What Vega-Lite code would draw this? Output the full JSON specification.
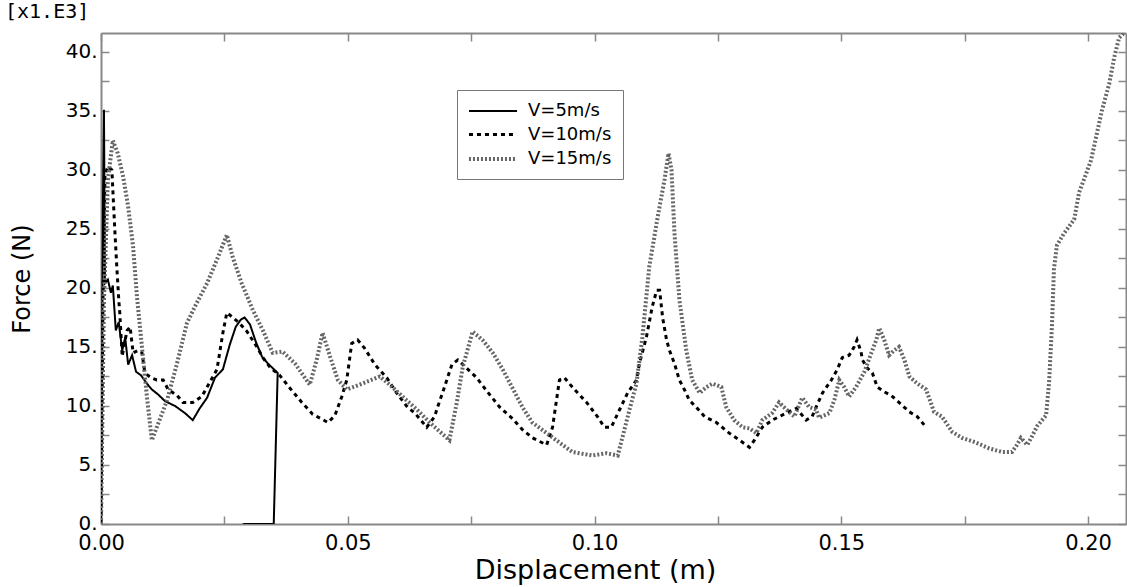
{
"$schema": "https://vega.github.io/schema/vega-lite/v6.json",
"width": 1025, "height": 491,
"autosize": {"type": "none"},
"padding": {"left": 101, "top": 33, "right": 1, "bottom": 63},
"background": "white",
"title": {"text": "[x1.E3]", "anchor": "start", "frame": "group", "dx": -96, "offset": 10, "font": "DejaVu Sans Mono", "fontSize": 20, "fontWeight": "normal", "color": "#000"},
"config": {
  "view": {"stroke": null},
  "axis": {"domainColor": "#888", "domainWidth": 2, "tickColor": "#888", "tickWidth": 1.5, "labelFont": "DejaVu Sans", "labelFontSize": 20, "labelColor": "#000", "titleFont": "DejaVu Sans", "titleFontSize": 24, "titleFontWeight": "normal", "titleColor": "#000", "grid": false},
  "legend": {"orient": "none", "legendX": 356, "legendY": 57, "padding": 11, "strokeColor": "#777", "fillColor": "#fff", "labelFont": "DejaVu Sans", "labelFontSize": 18, "labelColor": "#000", "symbolType": "M-2.67,0H2.67", "symbolSize": 324, "symbolOffset": 14, "labelOffset": 24, "rowPadding": 4}
},
"data": {"values": [
{"series":"V=5m/s","i":0,"disp":0,"force":0},
{"series":"V=5m/s","i":1,"disp":0.0002,"force":10.5},
{"series":"V=5m/s","i":2,"disp":0.0004,"force":27.5},
{"series":"V=5m/s","i":3,"disp":0.0006,"force":35.1},
{"series":"V=5m/s","i":4,"disp":0.0008,"force":20.4},
{"series":"V=5m/s","i":5,"disp":0.0014,"force":20.7},
{"series":"V=5m/s","i":6,"disp":0.002,"force":19.6},
{"series":"V=5m/s","i":7,"disp":0.0024,"force":20.2},
{"series":"V=5m/s","i":8,"disp":0.003,"force":16.4},
{"series":"V=5m/s","i":9,"disp":0.0036,"force":17.1},
{"series":"V=5m/s","i":10,"disp":0.0043,"force":14.7},
{"series":"V=5m/s","i":11,"disp":0.0049,"force":15.8},
{"series":"V=5m/s","i":12,"disp":0.0055,"force":13.5},
{"series":"V=5m/s","i":13,"disp":0.0063,"force":14.3},
{"series":"V=5m/s","i":14,"disp":0.0071,"force":12.9},
{"series":"V=5m/s","i":15,"disp":0.0081,"force":12.6},
{"series":"V=5m/s","i":16,"disp":0.0093,"force":11.9},
{"series":"V=5m/s","i":17,"disp":0.0103,"force":11.4},
{"series":"V=5m/s","i":18,"disp":0.0115,"force":11.0},
{"series":"V=5m/s","i":19,"disp":0.013,"force":10.4},
{"series":"V=5m/s","i":20,"disp":0.015,"force":10.0},
{"series":"V=5m/s","i":21,"disp":0.017,"force":9.4},
{"series":"V=5m/s","i":22,"disp":0.0186,"force":8.8},
{"series":"V=5m/s","i":23,"disp":0.02,"force":9.8},
{"series":"V=5m/s","i":24,"disp":0.0215,"force":10.7},
{"series":"V=5m/s","i":25,"disp":0.0231,"force":12.4},
{"series":"V=5m/s","i":26,"disp":0.0247,"force":13.1},
{"series":"V=5m/s","i":27,"disp":0.0261,"force":15.2},
{"series":"V=5m/s","i":28,"disp":0.0273,"force":16.7},
{"series":"V=5m/s","i":29,"disp":0.0283,"force":17.3},
{"series":"V=5m/s","i":30,"disp":0.0291,"force":17.5},
{"series":"V=5m/s","i":31,"disp":0.0302,"force":16.9},
{"series":"V=5m/s","i":32,"disp":0.0314,"force":15.4},
{"series":"V=5m/s","i":33,"disp":0.0326,"force":14.2},
{"series":"V=5m/s","i":34,"disp":0.0338,"force":13.6},
{"series":"V=5m/s","i":35,"disp":0.0358,"force":12.8},
{"series":"V=5m/s","i":36,"disp":0.035,"force":0},
{"series":"V=5m/s","i":37,"disp":0.0287,"force":0},
{"series":"V=10m/s","i":0,"disp":0,"force":0},
{"series":"V=10m/s","i":1,"disp":0.0004,"force":19.0},
{"series":"V=10m/s","i":2,"disp":0.0008,"force":29.6},
{"series":"V=10m/s","i":3,"disp":0.0014,"force":30.3},
{"series":"V=10m/s","i":4,"disp":0.0022,"force":30.0},
{"series":"V=10m/s","i":5,"disp":0.0028,"force":24.9},
{"series":"V=10m/s","i":6,"disp":0.0032,"force":21.8},
{"series":"V=10m/s","i":7,"disp":0.0036,"force":19.0},
{"series":"V=10m/s","i":8,"disp":0.0038,"force":17.9},
{"series":"V=10m/s","i":9,"disp":0.0043,"force":14.2},
{"series":"V=10m/s","i":10,"disp":0.0047,"force":15.2},
{"series":"V=10m/s","i":11,"disp":0.0053,"force":16.4},
{"series":"V=10m/s","i":12,"disp":0.0059,"force":16.7},
{"series":"V=10m/s","i":13,"disp":0.0065,"force":14.5},
{"series":"V=10m/s","i":14,"disp":0.0075,"force":14.7},
{"series":"V=10m/s","i":15,"disp":0.0083,"force":14.5},
{"series":"V=10m/s","i":16,"disp":0.0089,"force":12.8},
{"series":"V=10m/s","i":17,"disp":0.0101,"force":12.4},
{"series":"V=10m/s","i":18,"disp":0.0113,"force":12.2},
{"series":"V=10m/s","i":19,"disp":0.0126,"force":12.2},
{"series":"V=10m/s","i":20,"disp":0.0136,"force":11.4},
{"series":"V=10m/s","i":21,"disp":0.0154,"force":10.9},
{"series":"V=10m/s","i":22,"disp":0.0166,"force":10.3},
{"series":"V=10m/s","i":23,"disp":0.0186,"force":10.3},
{"series":"V=10m/s","i":24,"disp":0.0204,"force":10.8},
{"series":"V=10m/s","i":25,"disp":0.0215,"force":11.6},
{"series":"V=10m/s","i":26,"disp":0.0235,"force":13.1},
{"series":"V=10m/s","i":27,"disp":0.0247,"force":16.2},
{"series":"V=10m/s","i":28,"disp":0.0255,"force":17.9},
{"series":"V=10m/s","i":29,"disp":0.0267,"force":17.5},
{"series":"V=10m/s","i":30,"disp":0.0281,"force":17.0},
{"series":"V=10m/s","i":31,"disp":0.0296,"force":16.3},
{"series":"V=10m/s","i":32,"disp":0.0316,"force":15.0},
{"series":"V=10m/s","i":33,"disp":0.0328,"force":14.1},
{"series":"V=10m/s","i":34,"disp":0.0342,"force":13.3},
{"series":"V=10m/s","i":35,"disp":0.0362,"force":12.6},
{"series":"V=10m/s","i":36,"disp":0.0383,"force":11.5},
{"series":"V=10m/s","i":37,"disp":0.0407,"force":10.3},
{"series":"V=10m/s","i":38,"disp":0.0429,"force":9.3},
{"series":"V=10m/s","i":39,"disp":0.046,"force":8.6},
{"series":"V=10m/s","i":40,"disp":0.0474,"force":9.2},
{"series":"V=10m/s","i":41,"disp":0.0488,"force":10.8},
{"series":"V=10m/s","i":42,"disp":0.0498,"force":12.2},
{"series":"V=10m/s","i":43,"disp":0.0508,"force":15.3},
{"series":"V=10m/s","i":44,"disp":0.052,"force":15.6},
{"series":"V=10m/s","i":45,"disp":0.0534,"force":14.9},
{"series":"V=10m/s","i":46,"disp":0.0555,"force":13.5},
{"series":"V=10m/s","i":47,"disp":0.0579,"force":12.4},
{"series":"V=10m/s","i":48,"disp":0.0599,"force":11.1},
{"series":"V=10m/s","i":49,"disp":0.0621,"force":9.9},
{"series":"V=10m/s","i":50,"disp":0.0636,"force":9.4},
{"series":"V=10m/s","i":51,"disp":0.066,"force":8.2},
{"series":"V=10m/s","i":52,"disp":0.0676,"force":9.1},
{"series":"V=10m/s","i":53,"disp":0.0682,"force":9.9},
{"series":"V=10m/s","i":54,"disp":0.0692,"force":11.1},
{"series":"V=10m/s","i":55,"disp":0.0711,"force":13.5},
{"series":"V=10m/s","i":56,"disp":0.0723,"force":13.9},
{"series":"V=10m/s","i":57,"disp":0.0741,"force":13.2},
{"series":"V=10m/s","i":58,"disp":0.0761,"force":12.4},
{"series":"V=10m/s","i":59,"disp":0.0783,"force":11.2},
{"series":"V=10m/s","i":60,"disp":0.0808,"force":9.9},
{"series":"V=10m/s","i":61,"disp":0.0832,"force":9.0},
{"series":"V=10m/s","i":62,"disp":0.0854,"force":8.0},
{"series":"V=10m/s","i":63,"disp":0.0874,"force":7.3},
{"series":"V=10m/s","i":64,"disp":0.0903,"force":6.7},
{"series":"V=10m/s","i":65,"disp":0.0915,"force":8.2},
{"series":"V=10m/s","i":66,"disp":0.0923,"force":10.5},
{"series":"V=10m/s","i":67,"disp":0.0929,"force":12.2},
{"series":"V=10m/s","i":68,"disp":0.0939,"force":12.4},
{"series":"V=10m/s","i":69,"disp":0.0955,"force":11.6},
{"series":"V=10m/s","i":70,"disp":0.0984,"force":10.3},
{"series":"V=10m/s","i":71,"disp":0.1006,"force":9.1},
{"series":"V=10m/s","i":72,"disp":0.102,"force":8.2},
{"series":"V=10m/s","i":73,"disp":0.1034,"force":8.2},
{"series":"V=10m/s","i":74,"disp":0.1051,"force":9.7},
{"series":"V=10m/s","i":75,"disp":0.1067,"force":11.1},
{"series":"V=10m/s","i":76,"disp":0.1085,"force":12.2},
{"series":"V=10m/s","i":77,"disp":0.1091,"force":13.6},
{"series":"V=10m/s","i":78,"disp":0.1105,"force":15.8},
{"series":"V=10m/s","i":79,"disp":0.1117,"force":18.4},
{"series":"V=10m/s","i":80,"disp":0.1126,"force":19.8},
{"series":"V=10m/s","i":81,"disp":0.1132,"force":19.8},
{"series":"V=10m/s","i":82,"disp":0.1138,"force":17.5},
{"series":"V=10m/s","i":83,"disp":0.1146,"force":15.6},
{"series":"V=10m/s","i":84,"disp":0.1152,"force":14.7},
{"series":"V=10m/s","i":85,"disp":0.1162,"force":13.6},
{"series":"V=10m/s","i":86,"disp":0.1172,"force":12.2},
{"series":"V=10m/s","i":87,"disp":0.1182,"force":11.4},
{"series":"V=10m/s","i":88,"disp":0.1192,"force":10.5},
{"series":"V=10m/s","i":89,"disp":0.1206,"force":9.9},
{"series":"V=10m/s","i":90,"disp":0.1223,"force":9.1},
{"series":"V=10m/s","i":91,"disp":0.1247,"force":8.6},
{"series":"V=10m/s","i":92,"disp":0.1273,"force":7.7},
{"series":"V=10m/s","i":93,"disp":0.1294,"force":7.1},
{"series":"V=10m/s","i":94,"disp":0.1314,"force":6.5},
{"series":"V=10m/s","i":95,"disp":0.1324,"force":7.1},
{"series":"V=10m/s","i":96,"disp":0.134,"force":8.2},
{"series":"V=10m/s","i":97,"disp":0.136,"force":8.8},
{"series":"V=10m/s","i":98,"disp":0.1389,"force":9.4},
{"series":"V=10m/s","i":99,"disp":0.1409,"force":9.8},
{"series":"V=10m/s","i":100,"disp":0.1429,"force":8.8},
{"series":"V=10m/s","i":101,"disp":0.1441,"force":9.1},
{"series":"V=10m/s","i":102,"disp":0.1449,"force":9.9},
{"series":"V=10m/s","i":103,"disp":0.1462,"force":11.1},
{"series":"V=10m/s","i":104,"disp":0.148,"force":12.2},
{"series":"V=10m/s","i":105,"disp":0.1492,"force":13.1},
{"series":"V=10m/s","i":106,"disp":0.1502,"force":14.1},
{"series":"V=10m/s","i":107,"disp":0.1516,"force":14.3},
{"series":"V=10m/s","i":108,"disp":0.1526,"force":15.0},
{"series":"V=10m/s","i":109,"disp":0.1532,"force":15.6},
{"series":"V=10m/s","i":110,"disp":0.154,"force":14.6},
{"series":"V=10m/s","i":111,"disp":0.1543,"force":13.9},
{"series":"V=10m/s","i":112,"disp":0.1553,"force":13.2},
{"series":"V=10m/s","i":113,"disp":0.1563,"force":12.8},
{"series":"V=10m/s","i":114,"disp":0.1573,"force":11.6},
{"series":"V=10m/s","i":115,"disp":0.1587,"force":11.2},
{"series":"V=10m/s","i":116,"disp":0.1601,"force":10.9},
{"series":"V=10m/s","i":117,"disp":0.1617,"force":10.3},
{"series":"V=10m/s","i":118,"disp":0.1638,"force":9.5},
{"series":"V=10m/s","i":119,"disp":0.1654,"force":9.1},
{"series":"V=10m/s","i":120,"disp":0.1668,"force":8.4},
{"series":"V=15m/s","i":0,"disp":0,"force":0},
{"series":"V=15m/s","i":1,"disp":0.0006,"force":19.0},
{"series":"V=15m/s","i":2,"disp":0.0014,"force":29.2},
{"series":"V=15m/s","i":3,"disp":0.0024,"force":32.5},
{"series":"V=15m/s","i":4,"disp":0.0034,"force":31.4},
{"series":"V=15m/s","i":5,"disp":0.0045,"force":29.4},
{"series":"V=15m/s","i":6,"disp":0.0055,"force":26.9},
{"series":"V=15m/s","i":7,"disp":0.0065,"force":23.5},
{"series":"V=15m/s","i":8,"disp":0.0073,"force":19.2},
{"series":"V=15m/s","i":9,"disp":0.0083,"force":15.0},
{"series":"V=15m/s","i":10,"disp":0.0093,"force":10.8},
{"series":"V=15m/s","i":11,"disp":0.0103,"force":7.1},
{"series":"V=15m/s","i":12,"disp":0.0113,"force":8.2},
{"series":"V=15m/s","i":13,"disp":0.0134,"force":10.5},
{"series":"V=15m/s","i":14,"disp":0.0154,"force":13.6},
{"series":"V=15m/s","i":15,"disp":0.0174,"force":17.0},
{"series":"V=15m/s","i":16,"disp":0.019,"force":18.4},
{"series":"V=15m/s","i":17,"disp":0.0215,"force":20.4},
{"series":"V=15m/s","i":18,"disp":0.0235,"force":22.4},
{"series":"V=15m/s","i":19,"disp":0.0255,"force":24.5},
{"series":"V=15m/s","i":20,"disp":0.0267,"force":22.6},
{"series":"V=15m/s","i":21,"disp":0.0285,"force":20.4},
{"series":"V=15m/s","i":22,"disp":0.0308,"force":18.1},
{"series":"V=15m/s","i":23,"disp":0.0328,"force":16.4},
{"series":"V=15m/s","i":24,"disp":0.0348,"force":14.5},
{"series":"V=15m/s","i":25,"disp":0.0368,"force":14.6},
{"series":"V=15m/s","i":26,"disp":0.0393,"force":13.6},
{"series":"V=15m/s","i":27,"disp":0.0423,"force":11.8},
{"series":"V=15m/s","i":28,"disp":0.0437,"force":13.9},
{"series":"V=15m/s","i":29,"disp":0.0449,"force":16.2},
{"series":"V=15m/s","i":30,"disp":0.0464,"force":14.2},
{"series":"V=15m/s","i":31,"disp":0.048,"force":12.2},
{"series":"V=15m/s","i":32,"disp":0.0498,"force":11.4},
{"series":"V=15m/s","i":33,"disp":0.0524,"force":11.8},
{"series":"V=15m/s","i":34,"disp":0.0565,"force":12.5},
{"series":"V=15m/s","i":35,"disp":0.0585,"force":11.8},
{"series":"V=15m/s","i":36,"disp":0.0611,"force":10.8},
{"series":"V=15m/s","i":37,"disp":0.064,"force":9.7},
{"series":"V=15m/s","i":38,"disp":0.0666,"force":8.6},
{"series":"V=15m/s","i":39,"disp":0.0706,"force":7.1},
{"series":"V=15m/s","i":40,"disp":0.0721,"force":10.3},
{"series":"V=15m/s","i":41,"disp":0.0733,"force":13.3},
{"series":"V=15m/s","i":42,"disp":0.0753,"force":16.3},
{"series":"V=15m/s","i":43,"disp":0.0773,"force":15.6},
{"series":"V=15m/s","i":44,"disp":0.0794,"force":14.5},
{"series":"V=15m/s","i":45,"disp":0.0814,"force":13.1},
{"series":"V=15m/s","i":46,"disp":0.0834,"force":11.5},
{"series":"V=15m/s","i":47,"disp":0.0854,"force":9.9},
{"series":"V=15m/s","i":48,"disp":0.0874,"force":8.6},
{"series":"V=15m/s","i":49,"disp":0.0903,"force":7.7},
{"series":"V=15m/s","i":50,"disp":0.0929,"force":6.9},
{"series":"V=15m/s","i":51,"disp":0.0955,"force":6.1},
{"series":"V=15m/s","i":52,"disp":0.0996,"force":5.8},
{"series":"V=15m/s","i":53,"disp":0.1024,"force":6.0},
{"series":"V=15m/s","i":54,"disp":0.1047,"force":5.8},
{"series":"V=15m/s","i":55,"disp":0.1057,"force":7.4},
{"series":"V=15m/s","i":56,"disp":0.1071,"force":9.7},
{"series":"V=15m/s","i":57,"disp":0.1085,"force":11.9},
{"series":"V=15m/s","i":58,"disp":0.1097,"force":15.8},
{"series":"V=15m/s","i":59,"disp":0.1111,"force":21.8},
{"series":"V=15m/s","i":60,"disp":0.1128,"force":26.0},
{"series":"V=15m/s","i":61,"disp":0.1142,"force":29.2},
{"series":"V=15m/s","i":62,"disp":0.115,"force":31.4},
{"series":"V=15m/s","i":63,"disp":0.1156,"force":30.0},
{"series":"V=15m/s","i":64,"disp":0.1162,"force":24.7},
{"series":"V=15m/s","i":65,"disp":0.1172,"force":19.0},
{"series":"V=15m/s","i":66,"disp":0.1186,"force":14.7},
{"series":"V=15m/s","i":67,"disp":0.1198,"force":12.2},
{"series":"V=15m/s","i":68,"disp":0.1213,"force":11.1},
{"series":"V=15m/s","i":69,"disp":0.1227,"force":11.6},
{"series":"V=15m/s","i":70,"disp":0.1239,"force":11.9},
{"series":"V=15m/s","i":71,"disp":0.1257,"force":11.6},
{"series":"V=15m/s","i":72,"disp":0.1267,"force":9.9},
{"series":"V=15m/s","i":73,"disp":0.1283,"force":8.8},
{"series":"V=15m/s","i":74,"disp":0.13,"force":8.2},
{"series":"V=15m/s","i":75,"disp":0.1314,"force":8.1},
{"series":"V=15m/s","i":76,"disp":0.1328,"force":7.7},
{"series":"V=15m/s","i":77,"disp":0.134,"force":8.8},
{"series":"V=15m/s","i":78,"disp":0.136,"force":9.4},
{"series":"V=15m/s","i":79,"disp":0.1374,"force":10.3},
{"series":"V=15m/s","i":80,"disp":0.1389,"force":9.7},
{"series":"V=15m/s","i":81,"disp":0.1405,"force":9.1},
{"series":"V=15m/s","i":82,"disp":0.1421,"force":10.7},
{"series":"V=15m/s","i":83,"disp":0.1435,"force":9.9},
{"series":"V=15m/s","i":84,"disp":0.1449,"force":9.7},
{"series":"V=15m/s","i":85,"disp":0.1455,"force":9.0},
{"series":"V=15m/s","i":86,"disp":0.1476,"force":9.4},
{"series":"V=15m/s","i":87,"disp":0.1486,"force":10.5},
{"series":"V=15m/s","i":88,"disp":0.1496,"force":12.2},
{"series":"V=15m/s","i":89,"disp":0.1506,"force":11.6},
{"series":"V=15m/s","i":90,"disp":0.1516,"force":10.8},
{"series":"V=15m/s","i":91,"disp":0.153,"force":11.6},
{"series":"V=15m/s","i":92,"disp":0.1547,"force":12.9},
{"series":"V=15m/s","i":93,"disp":0.1561,"force":14.5},
{"series":"V=15m/s","i":94,"disp":0.1571,"force":15.6},
{"series":"V=15m/s","i":95,"disp":0.1577,"force":16.6},
{"series":"V=15m/s","i":96,"disp":0.1587,"force":15.6},
{"series":"V=15m/s","i":97,"disp":0.1597,"force":14.3},
{"series":"V=15m/s","i":98,"disp":0.1607,"force":14.7},
{"series":"V=15m/s","i":99,"disp":0.1617,"force":15.0},
{"series":"V=15m/s","i":100,"disp":0.1628,"force":13.9},
{"series":"V=15m/s","i":101,"disp":0.1638,"force":12.5},
{"series":"V=15m/s","i":102,"disp":0.1654,"force":11.9},
{"series":"V=15m/s","i":103,"disp":0.1672,"force":11.4},
{"series":"V=15m/s","i":104,"disp":0.1688,"force":9.5},
{"series":"V=15m/s","i":105,"disp":0.1704,"force":9.1},
{"series":"V=15m/s","i":106,"disp":0.1725,"force":7.8},
{"series":"V=15m/s","i":107,"disp":0.1745,"force":7.3},
{"series":"V=15m/s","i":108,"disp":0.1773,"force":6.9},
{"series":"V=15m/s","i":109,"disp":0.18,"force":6.4},
{"series":"V=15m/s","i":110,"disp":0.1826,"force":6.1},
{"series":"V=15m/s","i":111,"disp":0.1846,"force":6.1},
{"series":"V=15m/s","i":112,"disp":0.1856,"force":6.7},
{"series":"V=15m/s","i":113,"disp":0.1864,"force":7.3},
{"series":"V=15m/s","i":114,"disp":0.1877,"force":6.7},
{"series":"V=15m/s","i":115,"disp":0.1885,"force":7.3},
{"series":"V=15m/s","i":116,"disp":0.1897,"force":8.3},
{"series":"V=15m/s","i":117,"disp":0.1915,"force":9.2},
{"series":"V=15m/s","i":118,"disp":0.1921,"force":11.9},
{"series":"V=15m/s","i":119,"disp":0.1927,"force":16.8},
{"series":"V=15m/s","i":120,"disp":0.1931,"force":21.6},
{"series":"V=15m/s","i":121,"disp":0.1937,"force":23.6},
{"series":"V=15m/s","i":122,"disp":0.1951,"force":24.6},
{"series":"V=15m/s","i":123,"disp":0.1972,"force":25.8},
{"series":"V=15m/s","i":124,"disp":0.1982,"force":28.1},
{"series":"V=15m/s","i":125,"disp":0.1992,"force":29.2},
{"series":"V=15m/s","i":126,"disp":0.2006,"force":30.8},
{"series":"V=15m/s","i":127,"disp":0.2016,"force":32.7},
{"series":"V=15m/s","i":128,"disp":0.2028,"force":35.0},
{"series":"V=15m/s","i":129,"disp":0.2043,"force":37.3},
{"series":"V=15m/s","i":130,"disp":0.2053,"force":39.5},
{"series":"V=15m/s","i":131,"disp":0.2063,"force":41.2},
{"series":"V=15m/s","i":132,"disp":0.2073,"force":41.6}
]},
"layer": [
  {
    "mark": {"type": "line", "clip": true},
    "encoding": {
      "x": {"field": "disp", "type": "quantitative", "scale": {"domain": [0, 0.2077], "nice": false, "zero": false},
        "axis": {"orient": "bottom", "title": "Displacement (m)", "titleFontSize": 27, "values": [0, 0.025, 0.05, 0.075, 0.1, 0.125, 0.15, 0.175, 0.2], "labelExpr": "round(datum.value*40) % 2 == 0 ? format(datum.value, '.2f') : ''", "labelFontSize": 21, "tickSize": -8, "labelPadding": 16, "titlePadding": 4, "titleX": 494, "labelFlush": false, "labelOverlap": false}},
      "y": {"field": "force", "type": "quantitative", "scale": {"domain": [0, 41.6], "nice": false},
        "axis": {"orient": "left", "title": "Force (N)", "values": [0, 2.5, 5, 7.5, 10, 12.5, 15, 17.5, 20, 22.5, 25, 27.5, 30, 32.5, 35, 37.5, 40], "labelExpr": "round(datum.value*2) % 2 == 0 ? toString(datum.value) + '.' : ''", "labelBaseline": {"condition": {"test": "datum.value == 0", "value": "alphabetic"}, "value": "middle"}, "labelOffset": {"condition": {"test": "datum.value == 0", "value": 5}, "value": 0}, "tickSize": -8, "labelPadding": 12, "titlePadding": 31, "labelOverlap": false}},
      "color": {"field": "series", "type": "nominal", "scale": {"domain": ["V=5m/s", "V=10m/s", "V=15m/s"], "range": ["#000000", "#000000", "#666666"]}, "legend": {"title": null}},
      "strokeDash": {"field": "series", "type": "nominal", "scale": {"domain": ["V=5m/s", "V=10m/s", "V=15m/s"], "range": [[1, 0], [4, 4], [2, 2]]}, "legend": {"title": null}},
      "strokeWidth": {"field": "series", "type": "nominal", "scale": {"domain": ["V=5m/s", "V=10m/s", "V=15m/s"], "range": [2, 4, 4.5]}, "legend": {"title": null}},
      "order": {"field": "i", "type": "quantitative"}
    }
  },
  {
    "mark": {"type": "line", "opacity": 0},
    "encoding": {
      "x": {"field": "disp", "type": "quantitative", "axis": {"orient": "top", "labels": false, "title": null, "values": [0, 0.025, 0.05, 0.075, 0.1, 0.125, 0.15, 0.175, 0.2], "tickSize": -8}},
      "y": {"field": "force", "type": "quantitative", "axis": {"orient": "right", "labels": false, "title": null, "values": [0, 2.5, 5, 7.5, 10, 12.5, 15, 17.5, 20, 22.5, 25, 27.5, 30, 32.5, 35, 37.5, 40], "tickSize": -8}},
      "detail": {"field": "series"},
      "order": {"field": "i", "type": "quantitative"}
    }
  }
],
"resolve": {"axis": {"x": "independent", "y": "independent"}}
}
